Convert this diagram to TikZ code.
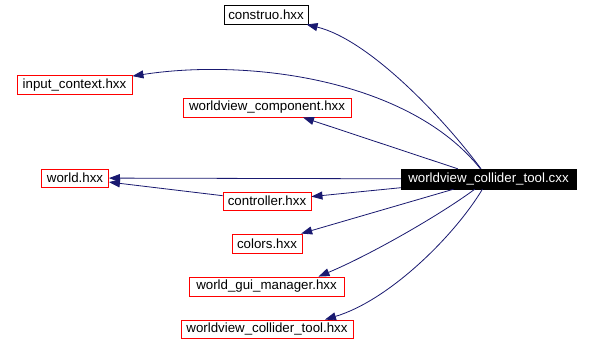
\documentclass[tikz,border=0pt]{standalone}
\usepackage{fontspec}
\setmainfont{Liberation Sans}
\usetikzlibrary{arrows.meta}
\definecolor{edgeblue}{HTML}{191970}
\definecolor{boxred}{HTML}{FF0000}
\begin{document}
\begin{tikzpicture}[x=1bp,y=-1bp,
  every node/.style={font=\fontsize{13.3bp}{16bp}\selectfont, inner sep=0pt, minimum height=19bp, anchor=center},
  redbox/.style={draw=boxred, fill=white, line width=0.9bp},
  blackbox/.style={draw=black, fill=white, line width=0.9bp},
  mainbox/.style={draw=black, fill=black, text=white},
  dep/.style={draw=edgeblue, line width=0.8bp, -{Triangle[length=11bp,width=8bp]}}]
\useasboundingbox[fill=white] (0,0) rectangle (590,345);
\node[blackbox, minimum width=84bp] (construo) at (266,14.5) {construo.hxx};
\node[redbox, minimum width=115bp] (input) at (74.5,85) {input\_context.hxx};
\node[redbox, minimum width=168bp] (comp) at (267,107.5) {worldview\_component.hxx};
\node[redbox, minimum width=67bp, minimum height=18bp] (world) at (75,178) {world.hxx};
\node[redbox, minimum width=88bp, minimum height=18bp] (ctrl) at (267,201) {controller.hxx};
\node[redbox, minimum width=70bp] (colors) at (267,243.5) {colors.hxx};
\node[redbox, minimum width=155bp] (wgm) at (266.5,286.5) {world\_gui\_manager.hxx};
\node[redbox, minimum width=172bp, minimum height=18bp] (wct) at (267,329) {worldview\_collider\_tool.hxx};
\node[mainbox, minimum width=175bp, minimum height=20bp] (cxx) at (488.5,179) {worldview\_collider\_tool.cxx};
\draw[dep] (cxx) .. controls (445,120) and (370,40) .. (construo);
\draw[dep] (cxx) .. controls (410,80) and (250,58) .. (input);
\draw[dep] (cxx) -- ([xshift=36bp]comp.south);
\draw[dep] (cxx) -- (world);
\draw[dep] (ctrl) -- (world);
\draw[dep] (cxx) -- (ctrl);
\draw[dep] (cxx) -- (colors);
\draw[dep] (cxx) .. controls (440,215) and (370,255) .. ([xshift=52bp]wgm.north);
\draw[dep] (cxx) .. controls (455,235) and (390,300) .. ([xshift=58bp]wct.north);
\end{tikzpicture}
\end{document}
